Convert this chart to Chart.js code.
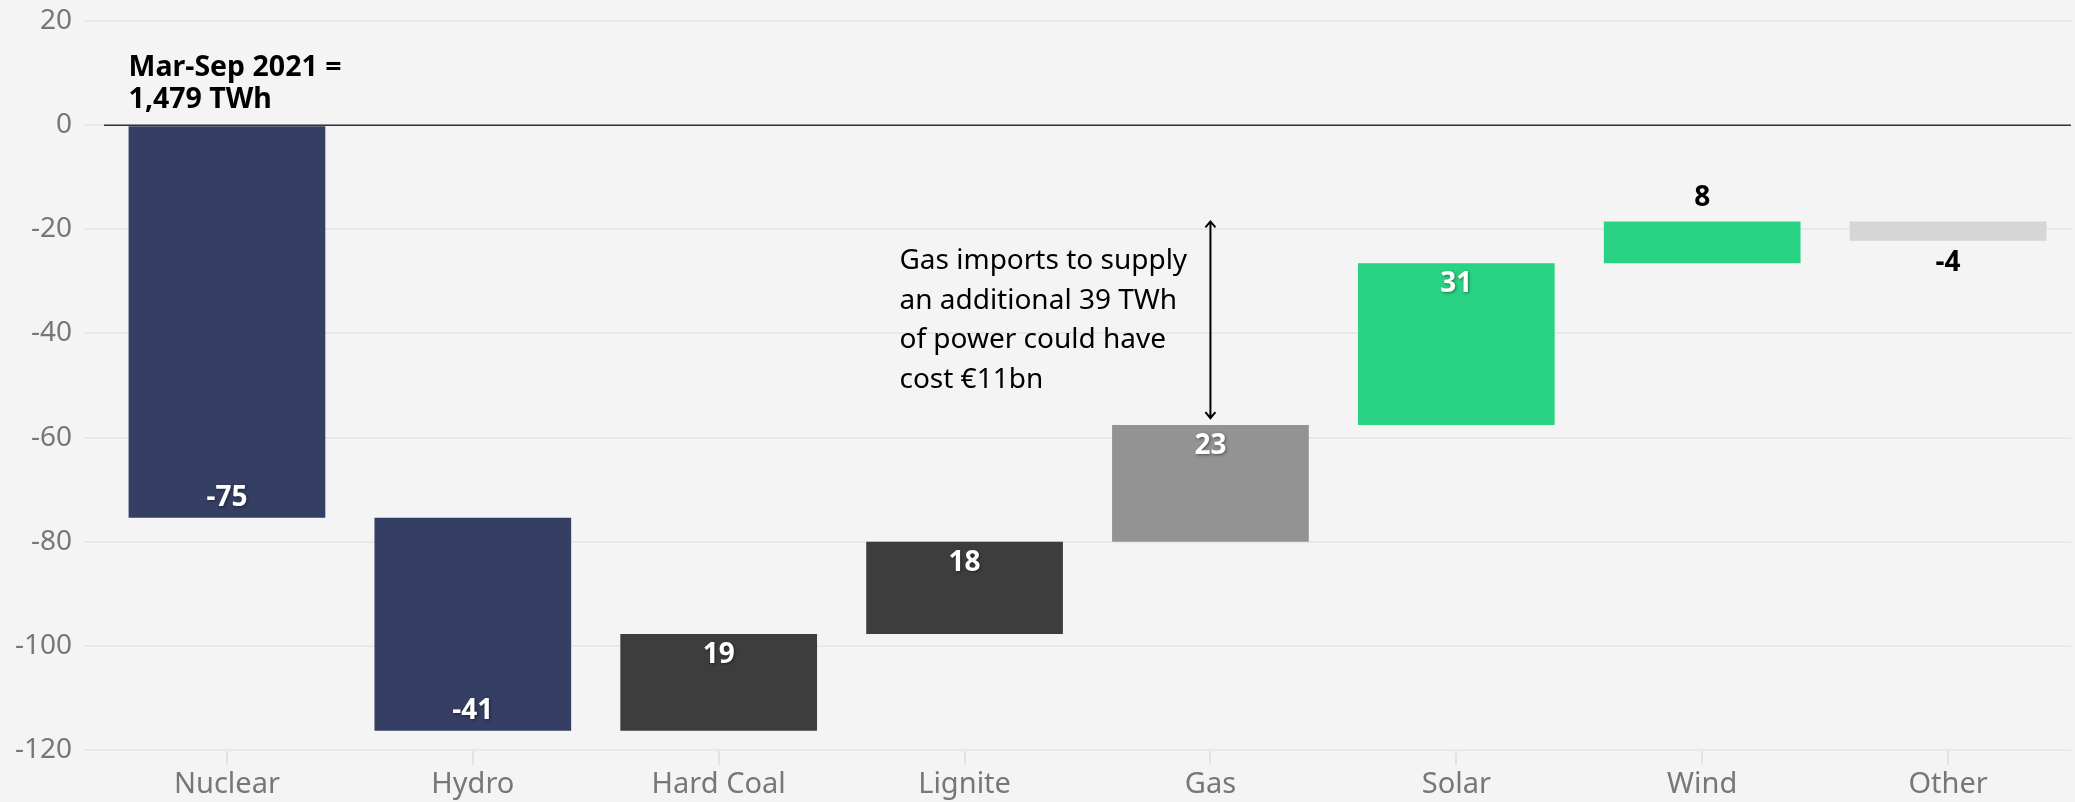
<!DOCTYPE html>
<html>
<head>
<meta charset="utf-8">
<script src="https://cdn.jsdelivr.net/npm/chart.js@4/dist/chart.umd.min.js"></script>
<style>
  html, body { margin: 0; padding: 0; background: #f4f4f4; }
  #wrap { width: 2075px; height: 802px; }
</style>
</head>
<body>
<div id="wrap"><canvas id="c" width="2075" height="802"></canvas></div>
<script>
// ---- data ----
const categories = ['Nuclear', 'Hydro', 'Hard Coal', 'Lignite', 'Gas', 'Solar', 'Wind', 'Other'];
const deltas = [-75.4, -40.9, 18.6, 17.7, 22.4, 31.1, 8.0, -3.7];
const valueLabels = ['-75', '-41', '19', '18', '23', '31', '8', '-4'];
const barColors = ['#353e63', '#353e63', '#3d3d3d', '#3d3d3d', '#939393', '#2ad283', '#2ad283', '#d6d6d6'];
const yTicks = [20, 0, -20, -40, -60, -80, -100, -120];
const baselineNote = ['Mar-Sep 2021 =', '1,479 TWh'];
const gasNote = ['Gas imports to supply', 'an additional 39 TWh', 'of power could have', 'cost €11bn'];

// floating bars built from the deltas (waterfall)
const floating = [];
let run = 0;
deltas.forEach(d => { floating.push([run, run + d]); run += d; });

const FONT = '"Noto Sans", "Open Sans", sans-serif';

const overlay = {
  id: 'overlay',
  beforeDraw(chart) {
    const ctx = chart.ctx;
    ctx.save();
    ctx.fillStyle = '#f4f4f4';
    ctx.fillRect(0, 0, chart.width, chart.height);
    ctx.restore();
  },
  afterDatasetsDraw(chart) {
    const ctx = chart.ctx;
    const xs = chart.scales.x, ys = chart.scales.y;
    const area = chart.chartArea;
    ctx.save();
    // zero line
    const y0 = ys.getPixelForValue(0);
    ctx.strokeStyle = '#333';
    ctx.lineWidth = 1.5;
    ctx.beginPath();
    ctx.moveTo(area.left, y0);
    ctx.lineTo(area.right, y0);
    ctx.stroke();

    // value labels
    const meta = chart.getDatasetMeta(0);
    ctx.font = 'bold 28px ' + FONT;
    ctx.textAlign = 'center';
    ctx.textBaseline = 'middle';
    meta.data.forEach((bar, i) => {
      const [s, e] = floating[i];
      const yTop = ys.getPixelForValue(Math.max(s, e));
      const yBot = ys.getPixelForValue(Math.min(s, e));
      const small = (yBot - yTop) < 60;
      let y;
      if (small) {
        y = deltas[i] >= 0 ? yTop - 23 : yBot + 22;
        ctx.shadowColor = 'transparent';
        ctx.fillStyle = '#000';
      } else {
        y = deltas[i] >= 0 ? yTop + 21 : yBot - 20;
        ctx.shadowColor = 'rgba(0,0,0,0.45)';
        ctx.shadowBlur = 3;
        ctx.shadowOffsetX = 1;
        ctx.shadowOffsetY = 1;
        ctx.fillStyle = '#fff';
      }
      ctx.fillText(valueLabels[i], bar.x, y);
    });
    ctx.shadowColor = 'transparent';
    ctx.shadowBlur = 0; ctx.shadowOffsetX = 0; ctx.shadowOffsetY = 0;

    // baseline note above Nuclear bar
    const nucBar = meta.data[0];
    const nucLeft = nucBar.x - nucBar.width / 2;
    ctx.textAlign = 'left';
    ctx.fillStyle = '#000';
    ctx.font = 'bold 28.5px ' + FONT;
    ctx.fillText(baselineNote[0], nucLeft, y0 - 57);
    ctx.fillText(baselineNote[1], nucLeft, y0 - 25);

    // gas annotation text
    const gasX = xs.getPixelForValue(4);
    ctx.font = '28px ' + FONT;
    ctx.fillStyle = '#000';
    const ty = ys.getPixelForValue(-26.1);
    gasNote.forEach((t, k) => ctx.fillText(t, gasX - 311, ty + k * 39.5));

    // double arrow
    const aTop = ys.getPixelForValue(floating[6][1]);
    const aBot = ys.getPixelForValue(floating[4][1]) - 7;
    ctx.strokeStyle = '#000';
    ctx.lineWidth = 2;
    ctx.beginPath();
    ctx.moveTo(gasX, aTop); ctx.lineTo(gasX, aBot);
    ctx.moveTo(gasX - 5, aTop + 6); ctx.lineTo(gasX, aTop); ctx.lineTo(gasX + 5, aTop + 6);
    ctx.moveTo(gasX - 5, aBot - 6); ctx.lineTo(gasX, aBot); ctx.lineTo(gasX + 5, aBot - 6);
    ctx.stroke();
    ctx.restore();
  }
};

new Chart(document.getElementById('c'), {
  type: 'bar',
  data: {
    labels: categories,
    datasets: [{
      data: floating,
      backgroundColor: barColors,
      borderWidth: 0,
      barPercentage: 0.8,
      categoryPercentage: 1.0
    }]
  },
  options: {
    responsive: false,
    devicePixelRatio: 1,
    animation: false,
    layout: { padding: { top: 21, right: 4, left: 0, bottom: 0 } },
    plugins: { legend: { display: false }, tooltip: { enabled: false } },
    scales: {
      x: {
        offset: true,
        grid: { offset: false, drawOnChartArea: false, drawTicks: true, tickLength: 15, color: '#e3e3e3', lineWidth: 2 },
        border: { display: false },
        ticks: { color: '#777', font: { family: FONT, size: 29 }, padding: 2, maxRotation: 0 },
        afterFit: s => { s.height = 52; s.paddingLeft = 0; s.paddingRight = 0; }
      },
      y: {
        min: -120, max: 20,
        afterBuildTicks: s => { s.ticks = yTicks.map(v => ({ value: v })); },
        grid: { color: '#e8e8e8', lineWidth: 2, tickLength: 20 },
        border: { display: false },
        ticks: { color: '#777', font: { family: FONT, size: 28 }, padding: 12 },
        afterFit: s => { s.width = 104; s.paddingTop = 0; s.paddingBottom = 0; }
      }
    }
  },
  plugins: [overlay]
});
</script>
</body>
</html>
